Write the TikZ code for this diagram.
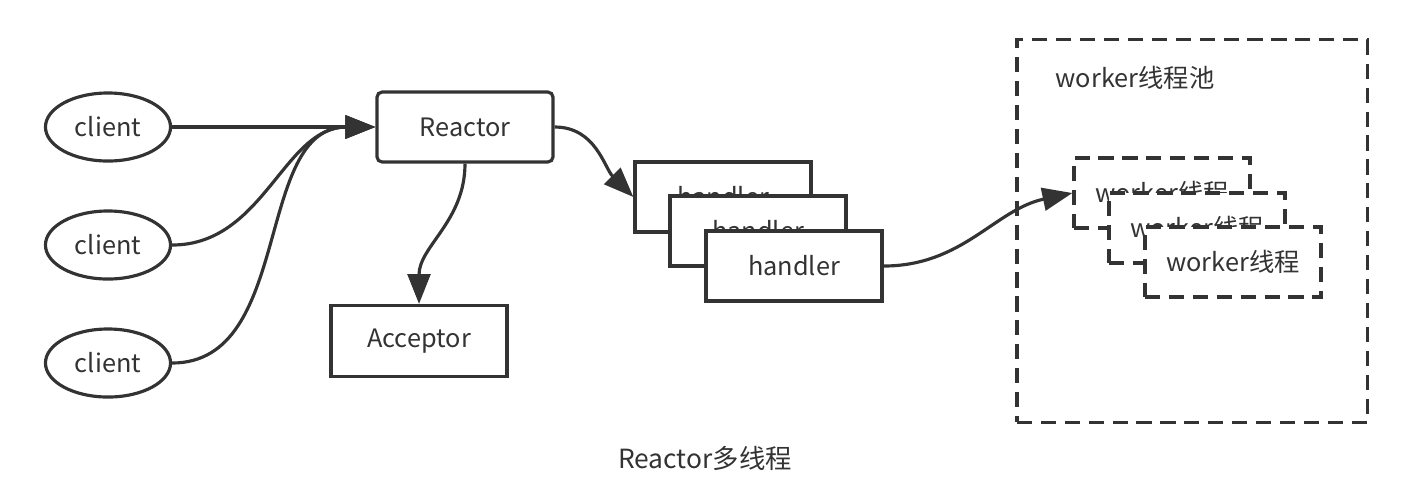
\documentclass[tikz,border=0pt]{standalone}
\usepackage{fontspec}
\setmainfont{Noto Sans CJK SC}
\usetikzlibrary{positioning,shapes.geometric,arrows.meta}

\tikzset{
  line/.style={draw=black!80,line width=0.9pt},
  client/.style={line,ellipse,minimum width=1.25cm,minimum height=0.68cm,inner sep=0pt},
  box/.style={line,fill=white,minimum width=1.76cm,minimum height=0.70cm,inner sep=0pt},
  workerbox/.style={box,dash pattern=on 4.3pt off 2.5pt},
  link/.style={line,-{Triangle[length=8.5pt,width=6.5pt]}}
}

\begin{document}
\begin{tikzpicture}[x=0.01cm,y=-0.01cm,font=\fontsize{7.2}{9}\selectfont,text=black!80]
            \useasboundingbox (0,0) rectangle (1404,487);
            % clients
            \node[client] (c1) at (108,127) {client};
            \node[client] (c2) at (108,245) {client};
            \node[client] (c3) at (108,363) {client};
            \node[box,rounded corners=1.5pt] (reactor) at (465,127) {Reactor};
            \node[box,minimum height=0.71cm] (acceptor) at (419,341) {Acceptor};
            % handlers
            \node[box] (h1) at (723,197) {handler};
            \node[box] (h2) at (758,231) {handler};
            \node[box] (h3) at (794,266) {handler};
            % worker pool
            \node[workerbox,minimum width=3.5cm,minimum height=3.82cm,fill=none] (pool) at (1192,231) {};
            \node[anchor=west,inner sep=0pt] (pooltxt) at (1055,78) {worker线程池};
            \node[workerbox] (w1) at (1162,193) {worker线程};
            \node[workerbox] (w2) at (1197,228) {worker线程};
            \node[workerbox] (w3) at (1233,262) {worker线程};
            \node (caption) at (705,458) {\fontsize{7.5}{9}\selectfont Reactor多线程};
            % links
            \draw[link] (c1) -- (reactor.west);
            \draw[link] (c2.east) to[out=0,in=180] (reactor.west);
            \draw[link] (c3.east) to[out=0,in=180] (reactor.west);
            \draw[link] (reactor.south) to[out=-90,in=90] (acceptor.north);
            \draw[link] (reactor.east) to[out=0,in=135] (h1.west);
            \draw[link] (h3.east) to[out=0,in=192] (w1.west);
        \end{tikzpicture}
\end{document}
